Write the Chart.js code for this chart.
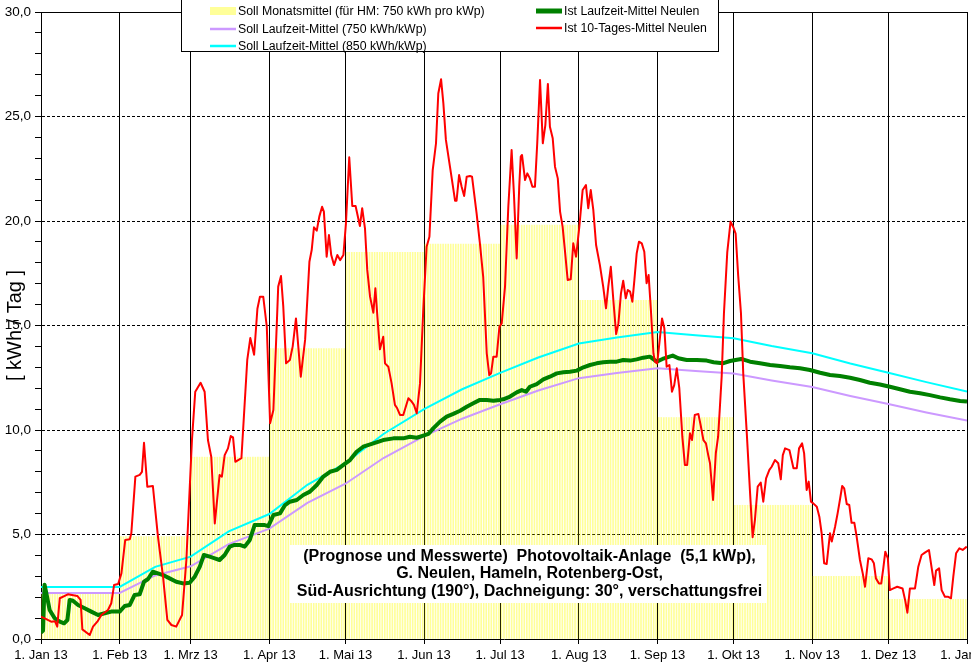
<!DOCTYPE html>
<html><head><meta charset="utf-8">
<script src="https://cdn.jsdelivr.net/npm/chart.js@4/dist/chart.umd.min.js"></script>
<style>html,body{margin:0;padding:0;background:#fff;overflow:hidden}#wrap{width:971px;height:672px}</style>
</head><body><div id="wrap"><canvas id="c" width="971" height="672"></canvas></div>
<script>
// ---- data ----
const monthStarts = [0,31,59,90,120,151,181,212,243,273,304,334,365];
const monthLabels = ["1. Jan 13","1. Feb 13","1. Mrz 13","1. Apr 13","1. Mai 13","1. Jun 13","1. Jul 13","1. Aug 13","1. Sep 13","1. Okt 13","1. Nov 13","1. Dez 13","1. Jan 14"];
const sollMonat = [2.2,4.9,8.7,13.9,18.5,18.9,19.8,16.2,10.6,6.4,3.0,1.9];

const sollDays = [0,31,45,59,74,90,105,120,135,151,166,181,196,212,227,243,258,273,288,304,319,334,349,365];
const soll750 = [2.2,2.2,3.04,3.48,4.54,5.28,6.51,7.43,8.66,9.71,10.54,11.23,11.89,12.48,12.73,12.96,12.82,12.70,12.37,12.06,11.63,11.24,10.84,10.45];
const soll850 = [2.49,2.49,3.45,3.94,5.15,5.98,7.38,8.42,9.81,11.0,11.95,12.73,13.47,14.14,14.43,14.69,14.53,14.39,14.02,13.67,13.18,12.74,12.29,11.84];

const istLzDays = [0,0.8,1.4,2.1,3.4,5.4,7.4,9.1,10.4,11.3,12.6,14.6,17.2,19.8,22.5,25.1,27.7,31,33,35,36.9,38.9,40.6,42.2,44.1,46.1,48.1,50.7,53.3,56,58.6,60.6,62.6,64.2,66.5,68.5,70.4,72.4,74.4,76.3,78.3,80.3,82.3,84.2,86.2,88.2,89.6,91.6,94.2,96.2,98.1,100.8,103.4,106,108.7,111.3,113.9,116.6,119.2,121.8,124.4,127,131,134.9,138.9,142.8,145.4,148.1,150.7,152.7,154.6,157.3,159.9,162.5,165.2,167.8,170.4,173,175.7,178.3,180.9,182.2,184.9,187.5,189.5,191.2,192.7,195.4,198,200.6,203.3,205.9,208.5,211.2,213.8,216.4,219,221.6,224.3,226.9,229.5,232.2,234.8,237.4,240,242.7,245,249,251.2,254.5,258.5,262.4,265.1,268.7,271.6,276,279.5,283.4,287.4,291.3,295.2,299.2,303.1,307.1,311,314.9,318.9,322.8,326.7,330.7,334.6,338.6,342.5,346.5,350.4,354.4,358.3,362.3,365];
const istLz = [0.3,0.4,2.6,2.19,1.39,0.99,0.83,0.75,0.91,1.87,1.83,1.63,1.47,1.31,1.15,1.23,1.31,1.31,1.58,1.63,2.11,2.14,2.74,2.87,3.22,3.14,3.06,2.9,2.74,2.66,2.69,2.98,3.46,4.02,3.94,3.86,3.78,4.02,4.42,4.5,4.5,4.42,4.74,5.45,5.45,5.45,5.4,5.93,6.01,6.41,6.57,6.65,6.89,7.05,7.37,7.77,8.0,8.09,8.33,8.56,8.96,9.2,9.36,9.52,9.6,9.6,9.68,9.63,9.73,9.81,10.08,10.4,10.64,10.77,10.92,11.11,11.28,11.44,11.44,11.4,11.44,11.47,11.6,11.8,11.91,11.83,12.07,12.2,12.42,12.55,12.71,12.76,12.79,12.84,13.0,13.11,13.19,13.24,13.27,13.27,13.35,13.32,13.38,13.46,13.51,13.27,13.4,13.56,13.43,13.35,13.35,13.32,13.24,13.19,13.3,13.4,13.27,13.19,13.11,13.06,13.0,12.95,12.87,12.74,12.63,12.58,12.5,12.39,12.26,12.18,12.07,11.95,11.83,11.76,11.67,11.56,11.47,11.39,11.36];

const ist10Days = [0,1.5,4,5.5,6.4,7.4,10.6,14.3,15.6,16.3,19.2,20.5,22.2,23.8,26.4,27.7,28.8,30.4,31.7,33.2,35,35.6,37.2,38.9,39.8,40.6,41.9,44.1,46.1,48.1,49.8,51.4,53.3,55.6,57.3,59.5,60.8,62.9,64.5,65.8,67.1,68.5,70.4,71.3,72.4,73.7,74.8,75.7,76.6,79,81.3,82.5,84,85.3,86.3,87.6,89,90.3,91.6,92.9,93.5,94.6,95.5,96.6,98.1,99.2,100.5,102.4,104.1,105.8,106.7,107.6,108.7,109.7,110.8,111.5,112.6,113.5,114.4,115.5,116.8,117.9,119.2,120.2,121.5,122.7,124,125.7,126.6,127.7,128.6,129.7,131,131.8,132.6,133.6,134.9,135.6,136.9,138.2,139.5,140.4,141.5,142.8,144.8,146.1,147,148.1,149.4,150.7,152,153.1,154.4,155.7,156.6,157.7,158.6,159.6,161.2,162.3,163.2,163.8,164.8,165.8,166.8,167.8,169.1,169.9,171.7,173,174.3,175.7,176.7,177.4,178.3,179.6,180.7,181.6,182.9,184.2,185.5,186.4,187.5,188.5,189.1,189.6,190.8,191.7,192.7,193.7,194.7,195.6,196.7,197.8,198.8,199.8,200.6,201.7,202.6,203.7,204.6,205.6,206.5,207.6,208.8,209.8,210.9,212.2,213.5,214.8,215.7,216.7,217.7,218.8,220.3,221.6,222.7,223.6,224.6,225.6,226.7,227.6,228.6,229.5,230.5,231.3,232.2,233.1,233.9,234.8,235.7,236.8,237.8,238.7,239.5,240.4,241.4,242,242.9,244,244.8,245.7,246.6,247.7,248.7,249.6,250.6,251.6,252.8,253.8,254.7,255.8,256.6,257.7,259.1,260,261.1,262.1,263,263.7,264.9,266,266.9,267.6,268.3,269.2,270.5,271.8,272.9,273.8,274.8,275.9,276.8,278.2,279.5,280.5,281.4,282.5,283.7,284.7,285.8,287.1,288,289.3,290.6,291.6,292.4,293.3,295,296.6,297.9,298.8,300,300.8,301.8,302.6,303.5,304.4,305.8,306.8,307.7,308.7,309.7,311,311.7,313,314,314.9,315.8,316.6,317.6,318.6,319.5,320.6,321.5,322.8,323.9,324.8,326.1,327.4,328.3,329.1,330.3,331.2,332,332.8,333.8,334.6,336,337.5,339.6,340.6,341.5,342.5,344.5,345.8,347.1,348.4,350,351.1,352.1,352.8,354,355,356.3,357.6,358.7,359.6,360.7,362,363.3,364.9];
const ist10 = [1.07,0.99,0.83,0.85,0.59,1.95,2.14,2.06,1.87,0.46,0.19,0.59,0.83,1.15,1.39,1.71,2.58,2.63,3.14,4.74,4.77,5.06,7.77,7.85,8.0,9.39,7.29,7.32,4.9,2.98,0.91,0.67,0.59,1.15,3.78,9.52,11.83,12.26,11.83,9.52,8.72,5.53,7.85,7.77,8.8,9.12,9.71,9.65,8.48,8.65,13.35,14.4,13.6,15.8,16.38,16.38,14.94,10.32,10.96,14.94,16.86,17.37,15.9,13.19,13.35,13.99,15.34,12.55,14.31,18.05,18.61,19.7,19.54,20.21,20.68,20.45,18.29,19.33,18.37,17.89,18.37,18.13,18.37,19.89,23.05,20.72,20.72,19.76,20.61,19.65,17.66,16.38,15.61,16.78,15.42,13.86,14.46,13.19,13.03,12.23,11.2,11.04,10.72,10.72,11.52,11.36,11.2,10.8,12.23,15.8,18.77,19.25,22.44,23.72,26.1,26.78,25.63,23.88,22.6,21.72,20.97,20.97,22.2,21.64,21.2,22.12,22.15,22.12,20.37,18.93,17.33,13.67,12.63,12.71,13.51,13.51,14.94,15.1,16.86,20.68,23.4,21.33,18.21,21.64,23.08,23.16,21.96,22.28,22.04,21.64,21.64,23.72,26.75,23.72,24.59,26.56,24.51,23.96,22.6,22.04,20.45,19.73,18.61,17.18,17.21,18.93,18.29,19.73,21.48,21.72,20.61,21.48,20.53,18.85,17.89,16.86,15.82,16.86,17.81,16.22,14.59,15.1,16.54,17.14,16.3,16.7,16.62,16.14,17.18,18.45,19.01,18.93,18.53,17.02,17.42,15.74,13.67,13.27,13.19,14.46,15.34,14.87,13.03,13.11,11.83,12.15,12.95,12.0,9.68,8.33,8.33,9.84,9.52,10.72,10.77,10.24,9.52,9.36,8.8,8.41,6.65,8.9,9.68,11.1,12.55,15.6,18.5,19.97,19.7,19.4,17.4,15.6,12.71,9.84,6.97,4.87,5.69,7.29,7.48,6.57,7.69,8.09,8.24,8.56,8.41,7.64,8.8,9.12,9.04,8.17,8.17,9.12,9.36,8.88,7.13,7.53,6.57,6.49,6.33,5.85,5.06,3.62,3.59,5.06,4.66,5.37,6.01,6.65,7.32,7.21,6.46,6.41,5.56,5.56,4.9,3.78,3.14,2.5,3.86,3.81,3.62,2.9,2.66,2.66,3.38,4.18,3.86,2.34,2.42,2.5,2.42,1.87,1.26,2.42,2.42,3.46,4.02,4.13,4.26,3.38,2.58,3.27,3.38,2.34,2.02,2.02,1.95,2.98,4.1,4.34,4.26,4.42];

const legendLabels = ["Soll Monatsmittel (für HM: 750 kWh pro kWp)","Soll Laufzeit-Mittel (750 kWh/kWp)","Soll Laufzeit-Mittel (850 kWh/kWp)","Ist Laufzeit-Mittel Neulen","Ist 10-Tages-Mittel Neulen"];
const noteLines = ["(Prognose und Messwerte)  Photovoltaik-Anlage  (5,1 kWp),","G. Neulen, Hameln, Rotenberg-Ost,","Süd-Ausrichtung (190°), Dachneigung: 30°, verschattungsfrei"];
const yTitle = "[ kWh / Tag ]";

// ---- build tables ----
const daily = [];
for (let m = 0; m < 12; m++) for (let d = monthStarts[m]; d < monthStarts[m+1]; d++) daily.push({x: d + 0.5, y: sollMonat[m]});
const pts = (xs, ys) => xs.map((x, i) => ({x, y: ys[i]}));

const COLORS = {yellow:'rgba(255,255,0,0.4)', yellowSw:'#ffff99', purple:'#cc99ff', cyan:'#00ffff', green:'#008000', red:'#ff0000'};
const FONT = '"Liberation Sans", Arial, sans-serif';

const decor = {
  id: 'decor',
  afterDraw(chart) {
    const {ctx, chartArea: a} = chart;
    ctx.save();
    ctx.strokeStyle = '#000'; ctx.lineWidth = 1;
    ctx.beginPath(); ctx.moveTo(a.left, a.top + 0.5); ctx.lineTo(a.right, a.top + 0.5); ctx.stroke();
    // legend box
    ctx.fillStyle = '#fff'; ctx.fillRect(181, 0, 537, 52);
    ctx.strokeRect(181.5, -0.5, 537, 52);
    const items = [
      {x:210, y:11, c:COLORS.yellowSw, w:8, t:legendLabels[0]},
      {x:210, y:29, c:COLORS.purple, w:2.5, t:legendLabels[1]},
      {x:210, y:46, c:COLORS.cyan, w:2.5, t:legendLabels[2]},
      {x:536, y:11, c:COLORS.green, w:5, t:legendLabels[3]},
      {x:536, y:28, c:COLORS.red, w:2.5, t:legendLabels[4]}
    ];
    ctx.font = '12.3px ' + FONT; ctx.textBaseline = 'middle'; ctx.textAlign = 'left';
    items.forEach(it => {
      ctx.strokeStyle = it.c; ctx.lineWidth = it.w; ctx.lineCap = 'butt';
      ctx.beginPath(); ctx.moveTo(it.x, it.y); ctx.lineTo(it.x + 26, it.y); ctx.stroke();
      ctx.fillStyle = '#000'; ctx.fillText(it.t, it.x + 28, it.y + 0.5);
    });
    // note box
    ctx.fillStyle = '#fff'; ctx.fillRect(290, 545, 477, 58);
    ctx.fillStyle = '#000'; ctx.font = 'bold 16px ' + FONT; ctx.textAlign = 'center';
    const ys = [557, 574, 592];
    noteLines.forEach((l, i) => ctx.fillText(l, 529.5, ys[i]));
    ctx.restore();
  }
};

new Chart(document.getElementById('c'), {
  type: 'line',
  data: {
    datasets: [
      {type:'line', label:legendLabels[4], data:pts(ist10Days, ist10), borderColor:COLORS.red, borderWidth:2, pointRadius:0, order:0, borderJoinStyle:'round'},
      {type:'line', label:legendLabels[3], data:pts(istLzDays, istLz), borderColor:COLORS.green, borderWidth:4, pointRadius:0, order:1, borderJoinStyle:'round'},
      {type:'line', label:legendLabels[2], data:pts(sollDays, soll850), borderColor:COLORS.cyan, borderWidth:2, pointRadius:0, order:2},
      {type:'line', label:legendLabels[1], data:pts(sollDays, soll750), borderColor:COLORS.purple, borderWidth:2, pointRadius:0, order:3},
      {type:'bar', label:legendLabels[0], data:daily, backgroundColor:COLORS.yellow, borderWidth:0, barThickness:1, order:4, grouped:false}
    ]
  },
  options: {
    responsive:false, animation:false, devicePixelRatio:1,
    layout:{padding:{left:0, right:4, top:12, bottom:0}},
    plugins:{legend:{display:false}, tooltip:{enabled:false}},
    scales:{
      x:{type:'linear', min:0, max:365, offset:false,
        afterBuildTicks:s => { s.ticks = monthStarts.map(v => ({value:v})); },
        afterFit:s => { s.height = 33; s.paddingLeft = 0; s.paddingRight = 0; },
        ticks:{autoSkip:false, maxRotation:0, minRotation:0, padding:4, color:'#000', font:{family:FONT, size:13},
          callback:(v, i) => monthLabels[i]},
        grid:{color:'#000', lineWidth:1, tickLength:5, offset:false},
        border:{color:'#000', width:1}
      },
      y:{min:0, max:30,
        afterFit:s => { s.width = 41; s.paddingTop = 0; s.paddingBottom = 0; },
        ticks:{stepSize:1, autoSkip:false, padding:4, color:'#000', font:{family:FONT, size:13.5},
          callback:v => (v % 5 === 0) ? v.toFixed(1).replace('.', ',') : ''},
        grid:{color:c => (c.tick && c.tick.value % 5 === 0 && c.tick.value > 0 && c.tick.value < 30) ? '#000' : 'rgba(0,0,0,0)',
          tickColor:'#000', lineWidth:1, tickLength:6},
        border:{color:'#000', width:1, dash:[3,2]},
        title:{display:true, text:yTitle, color:'#000', font:{family:FONT, size:20}, padding:{top:3, bottom:0}}
      }
    }
  },
  plugins:[decor]
});
</script></body></html>
